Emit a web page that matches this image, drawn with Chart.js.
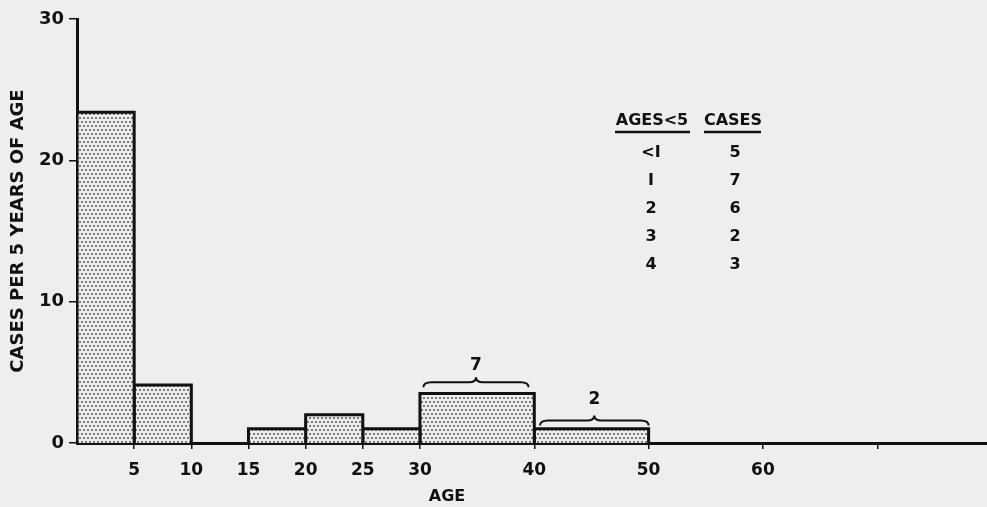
<!DOCTYPE html>
<html>
<head>
<meta charset="utf-8">
<title>Cases per 5 years of age</title>
<script src="https://cdn.jsdelivr.net/npm/chart.js"></script>
<style>
  html, body { margin: 0; padding: 0; background: #eeeeee; }
  #wrap { width: 987px; height: 507px; }
</style>
</head>
<body>
<div id="wrap"><canvas id="ageChart" width="987" height="507"></canvas></div>
<script>
// histogram bins (age in years) and cases per 5 years of age
const binStart = [0, 5, 15, 20, 25, 30, 40];
const binEnd = [5, 10, 20, 25, 30, 40, 50];
const casesPer5Yr = [23.4, 4.1, 1, 2, 1, 3.5, 1];

// axis ticks
const xTicks = [5, 10, 15, 20, 25, 30, 40, 50, 60, 70];
const xTickLabels = ['5', '10', '15', '20', '25', '30', '40', '50', '60', ''];
const yTicks = [0, 10, 20, 30];

// totals shown over the wide bins
const braceFrom = [30.3, 40.5];
const braceTo = [39.5, 50];
const braceCounts = ['7', '2'];

// inset table
const agesUnder5 = ['<I', 'I', '2', '3', '4'];
const casesUnder5 = ['5', '7', '6', '2', '3'];

const FONT = '"DejaVu Sans", sans-serif';
const INK = '#111';
const PAPER = '#eeeeee';

// stipple fill for the bars
function stipple() {
    const c = document.createElement('canvas');
    c.width = 8; c.height = 8;
    const g = c.getContext('2d');
    g.fillStyle = '#ececec';
    g.fillRect(0, 0, 8, 8);
    g.fillStyle = '#7c7c7c';
    g.fillRect(1, 1, 2, 2);
    g.fillRect(5, 1, 2, 2);
    g.fillRect(3, 5, 2, 2);
    g.fillRect(7, 5, 1, 2);
    g.fillRect(0, 5, 1, 2);
    return g.createPattern(c, 'repeat');
}
const dots = stipple();

// one outline dataset per bin
const datasets = binStart.map((s, i) => ({
    data: [
        { x: s, y: 0 },
        { x: s, y: casesPer5Yr[i] },
        { x: binEnd[i], y: casesPer5Yr[i] },
        { x: binEnd[i], y: 0 }
    ],
    borderColor: INK,
    borderWidth: 3,
    backgroundColor: dots,
    fill: 'origin',
    pointRadius: 0,
    tension: 0
}));

// braces, table and x title
const extras = {
    id: 'extras',
    beforeDraw(chart) {
        const ctx = chart.ctx;
        ctx.save();
        ctx.fillStyle = PAPER;
        ctx.fillRect(0, 0, chart.width, chart.height);
        ctx.restore();
    },
    afterDraw(chart) {
        const ctx = chart.ctx;
        const xs = chart.scales.x, ys = chart.scales.y;
        ctx.save();
        ctx.strokeStyle = INK;
        ctx.fillStyle = INK;
        ctx.lineWidth = 2;

        // braces above the 10-year bins
        const levels = [4.3, 1.6];
        const gaps = [8, 12];
        braceFrom.forEach((a, i) => {
            const x0 = xs.getPixelForValue(a);
            const x1 = xs.getPixelForValue(braceTo[i]);
            const y = ys.getPixelForValue(levels[i]);
            const xm = (x0 + x1) / 2;
            const h = 5;
            ctx.beginPath();
            ctx.moveTo(x0, y + h);
            ctx.quadraticCurveTo(x0, y, x0 + 8, y);
            ctx.lineTo(xm - 7, y);
            ctx.quadraticCurveTo(xm, y, xm, y - h);
            ctx.quadraticCurveTo(xm, y, xm + 7, y);
            ctx.lineTo(x1 - 8, y);
            ctx.quadraticCurveTo(x1, y, x1, y + h);
            ctx.stroke();
            ctx.font = 'bold 17px ' + FONT;
            ctx.textAlign = 'center';
            ctx.textBaseline = 'bottom';
            ctx.fillText(braceCounts[i], xm, y - gaps[i]);
        });

        // inset table
        ctx.font = 'bold 16px ' + FONT;
        ctx.textAlign = 'center';
        ctx.textBaseline = 'middle';
        ctx.fillText('AGES<5', 652, 121);
        ctx.fillText('CASES', 733, 121);
        ctx.lineWidth = 2.5;
        ctx.beginPath();
        ctx.moveTo(615, 132); ctx.lineTo(690, 132);
        ctx.moveTo(704, 132); ctx.lineTo(761, 132);
        ctx.stroke();
        agesUnder5.forEach((a, i) => {
            const y = 153 + i * 28;
            ctx.fillText(a, 651, y);
            ctx.fillText(casesUnder5[i], 735, y);
        });

        // x title
        ctx.font = 'bold 16px ' + FONT;
        ctx.fillText('AGE', 447, 497);
        ctx.restore();
    }
};

new Chart(document.getElementById('ageChart'), {
    type: 'line',
    data: { datasets },
    options: {
        responsive: false,
        animation: false,
        events: [],
        layout: { padding: { top: 19, right: 0, bottom: 0, left: 0 } },
        plugins: {
            legend: { display: false },
            tooltip: { enabled: false }
        },
        scales: {
            x: {
                type: 'linear',
                min: 0,
                max: 79.6,
                afterFit(s) { s.height = 64; },
                afterBuildTicks(s) { s.ticks = xTicks.map(v => ({ value: v })); },
                border: { display: true, color: INK, width: 3 },
                grid: {
                    display: true,
                    drawOnChartArea: false,
                    drawTicks: true,
                    tickLength: 6,
                    color: INK,
                    lineWidth: 1.5
                },
                ticks: {
                    autoSkip: false,
                    maxRotation: 0,
                    padding: 11,
                    color: INK,
                    font: { family: FONT, size: 17, weight: 'bold' },
                    callback: (v) => xTickLabels[xTicks.indexOf(v)]
                }
            },
            y: {
                type: 'linear',
                min: 0,
                max: 30,
                afterFit(s) { s.width = 77; },
                afterBuildTicks(s) { s.ticks = yTicks.map(v => ({ value: v })); },
                border: { display: true, color: INK, width: 3 },
                grid: {
                    display: true,
                    drawOnChartArea: false,
                    drawTicks: true,
                    tickLength: 8,
                    color: INK,
                    lineWidth: 1.5
                },
                ticks: {
                    padding: 5,
                    color: INK,
                    font: { family: FONT, size: 18, weight: 'bold' }
                },
                title: {
                    display: true,
                    text: 'CASES PER 5 YEARS OF AGE',
                    color: INK,
                    font: { family: FONT, size: 18, weight: 'bold' },
                    padding: { top: 8, bottom: 0 }
                }
            }
        }
    },
    plugins: [extras]
});
</script>
</body>
</html>
